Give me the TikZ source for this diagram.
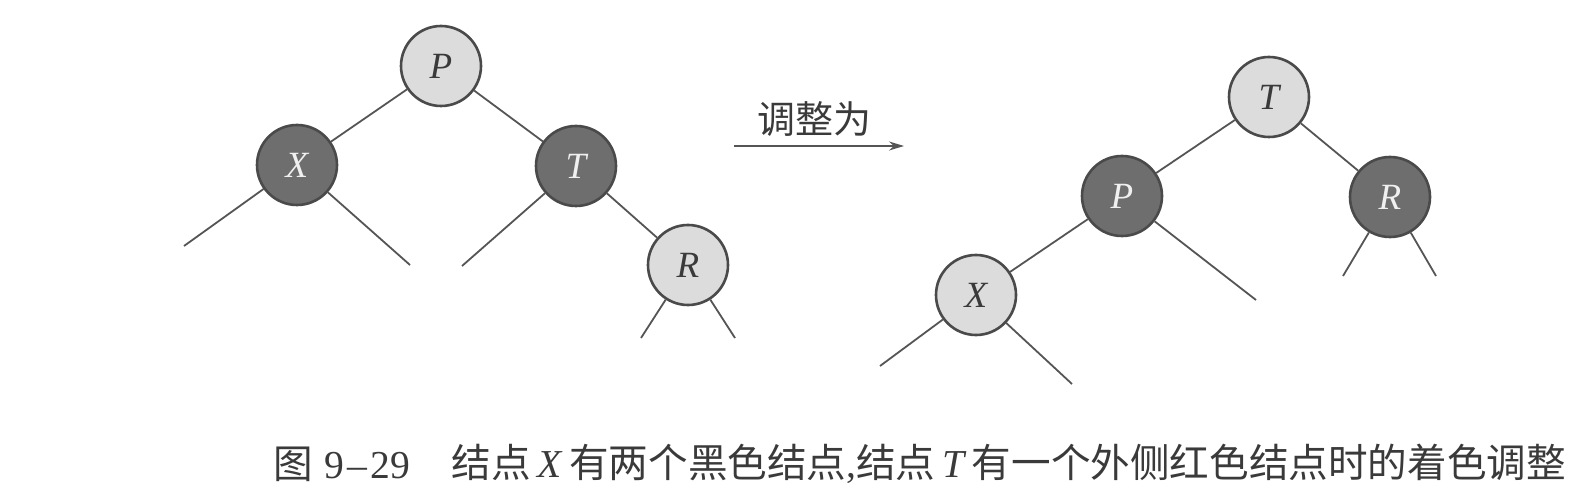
\documentclass[tikz,border=0pt]{standalone}
\usepackage{fontspec}
\setmainfont{Liberation Serif}
\newfontfamily\cjk{Noto Sans CJK SC}
\usetikzlibrary{arrows.meta}
\definecolor{lightfill}{HTML}{DCDCDC}
\definecolor{darkfill}{HTML}{6E6E6E}
\definecolor{rimcol}{HTML}{4A4A4A}
\definecolor{edgecol}{HTML}{555555}
\definecolor{textcol}{HTML}{3A3A3A}
\tikzset{
  rbnode/.style={circle, draw=rimcol, line width=2.6pt, minimum size=80pt, inner sep=0pt,
    font=\fontsize{37}{40}\selectfont\itshape},
  lightnode/.style={rbnode, fill=lightfill, text=textcol},
  darknode/.style={rbnode, fill=darkfill, text=white!94!black},
  edge/.style={draw=edgecol, line width=1.8pt},
  captext/.style={text=textcol, font=\cjk\fontsize{38}{42}\selectfont, inner sep=0pt},
  captionfont/.style={text=textcol, font=\cjk\fontsize{39.6}{44}\selectfont, inner sep=0pt}
}
\begin{document}
\begin{tikzpicture}[x=1pt,y=-1pt]
\useasboundingbox (0,0) rectangle (1595,502);
% left tree
\node[lightnode] (P1) at (441,66) {P};
\node[darknode]  (X1) at (297,165) {X};
\node[darknode]  (T1) at (576,166) {T};
\node[lightnode] (R1) at (688,265) {R};
\coordinate (x1l) at (184,246);
\coordinate (x1r) at (410,265);
\coordinate (t1l) at (462,266);
\coordinate (r1l) at (641,338);
\coordinate (r1r) at (735,338);
\draw[edge] (P1) -- (X1);
\draw[edge] (P1) -- (T1);
\draw[edge] (T1) -- (R1);
\draw[edge] (X1) -- (x1l);
\draw[edge] (X1) -- (x1r);
\draw[edge] (T1) -- (t1l);
\draw[edge] (R1) -- (r1l);
\draw[edge] (R1) -- (r1r);
% arrow
\coordinate (a0) at (734,146);
\coordinate (a1) at (904,146);
\draw[edge, line width=1.6pt, -{Stealth[length=15pt,width=9pt]}] (a0) -- (a1);
\node[captext] (lab) at (814,119) {调整为};
% right tree
\node[lightnode] (T2) at (1269,97) {T};
\node[darknode]  (P2) at (1122,196) {P};
\node[darknode]  (R2) at (1390,197) {R};
\node[lightnode] (X2) at (976,295) {X};
\coordinate (p2r) at (1256,300);
\coordinate (r2l) at (1343,276);
\coordinate (r2r) at (1436,276);
\coordinate (x2l) at (880,366);
\coordinate (x2r) at (1072,384);
\draw[edge] (T2) -- (P2);
\draw[edge] (T2) -- (R2);
\draw[edge] (P2) -- (X2);
\draw[edge] (P2) -- (p2r);
\draw[edge] (R2) -- (r2l);
\draw[edge] (R2) -- (r2r);
\draw[edge] (X2) -- (x2l);
\draw[edge] (X2) -- (x2r);
% caption
\node[captionfont, anchor=west] (capnum) at (273,464) {图\hspace{0.3em}{\rmfamily 9\kern3pt–\kern3pt29}};
\node[captionfont, anchor=east] (captxt) at (1566,464) {结点\hspace{0.18em}{\rmfamily\itshape X}\hspace{0.18em}有两个黑色结点{\rmfamily ,}结点\hspace{0.18em}{\rmfamily\itshape T}\hspace{0.18em}有一个外侧红色结点时的着色调整};
\end{tikzpicture}
\end{document}
